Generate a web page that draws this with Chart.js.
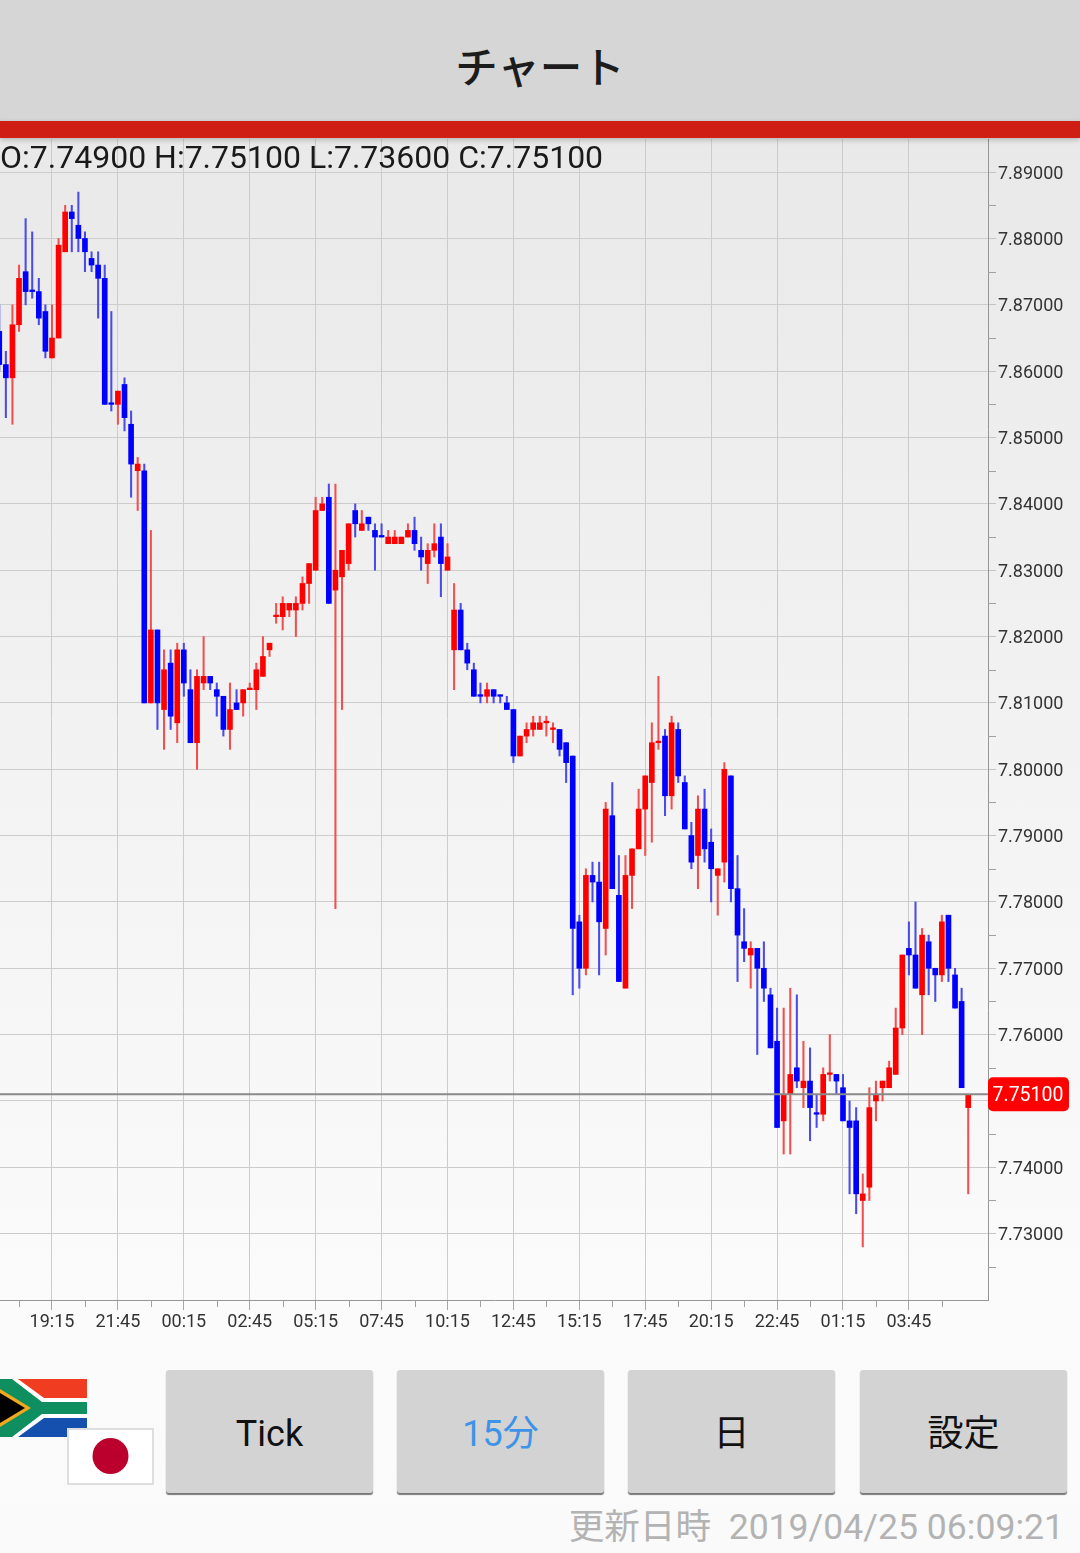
<!DOCTYPE html>
<html lang="ja">
<head>
<meta charset="utf-8">
<title>チャート</title>
<script src="https://cdn.jsdelivr.net/npm/chart.js@4"></script>
<style>
  html, body { margin: 0; padding: 0; }
  body { width: 1080px; height: 1553px; position: relative; overflow: hidden; font-family: Roboto, sans-serif;
    background: linear-gradient(#e9e9e9 139px, #fbfbfb 1300px, #fafafa 1553px); }
  .header { position: absolute; left: 0; top: 0; width: 1080px; height: 121px; background: #d6d6d6;
    font: 500 42.5px/130px "Noto Sans CJK JP"; color: #1c1c1c; text-align: center; }
  .redbar { position: absolute; left: 0; top: 121px; width: 1080px; height: 17px; background: #cf1f15; box-shadow: 0 2px 5px rgba(0,0,0,.22); }
  #chart { position: absolute; left: 0; top: 139px; }
  .ohlc { position: absolute; left: 0; top: 138px; font-size: 32px; line-height: 38px; color: #1a1a1a; white-space: nowrap; }
  .btn { position: absolute; top: 1370px; height: 123px; width: 207px; background: #d3d3d3; border-radius: 3px;
    box-shadow: 0 2px 1px #777; text-align: center; font: 36px/129px Roboto, "Noto Sans CJK JP"; color: #111; }
  .flag { position: absolute; }
  .updated { position: absolute; right: 16px; top: 1504px; font: 35.6px/46px Roboto, "Noto Sans CJK JP"; color: #b3b3b3; white-space: nowrap; }
</style>
</head>
<body>
<div class="header">チャート</div>
<canvas id="chart" width="1080" height="1210"></canvas>
<div class="redbar"></div>
<div class="ohlc" id="ohlc"></div>
<svg class="flag" style="left:0;top:1379px" width="87" height="58" viewBox="0 0 87 58">
  <rect width="87" height="58" fill="#fff"/>
  <polygon points="18,0 87,0 87,19 44,19" fill="#f03c20"/>
  <polygon points="18,58 87,58 87,39 44,39" fill="#1650ae"/>
  <polygon points="0,0 12,0 42,23 87,23 87,35 42,35 12,58 0,58" fill="#0f8f5f"/>
  <polygon points="0,10 31,29 0,48" fill="#f0a81c"/>
  <polygon points="0,14 25,29 0,44" fill="#000"/>
</svg>
<svg class="flag" style="left:67px;top:1428px" width="87" height="57" viewBox="0 0 87 57">
  <rect x="1" y="1" width="85" height="55" fill="#fff" stroke="#dedede" stroke-width="2"/>
  <circle cx="43.5" cy="28" r="18" fill="#bc002d"/>
</svg>
<div class="btn" style="left:166px">Tick</div>
<div class="btn" style="left:397px;color:#3f93e6">15分</div>
<div class="btn" style="left:628px">日</div>
<div class="btn" style="left:860px">設定</div>
<div class="updated">更新日時&nbsp; 2019/04/25 06:09:21</div>
<script>
// 15 minute candles, oldest first
const opens = [7.866,7.861,7.859,7.867,7.875,7.872,7.872,7.869,7.862,7.865,7.878,7.884,7.882,7.880,7.877,7.876,7.874,7.855,7.855,7.858,
  7.852,7.845,7.845,7.810,7.821,7.809,7.816,7.807,7.818,7.812,7.804,7.813,7.814,7.812,7.811,7.806,7.810,7.810,7.812,7.812,
  7.814,7.818,7.823,7.823,7.824,7.824,7.825,7.828,7.830,7.839,7.841,7.827,7.829,7.831,7.839,7.836,7.838,7.836,7.835,7.834,
  7.834,7.834,7.835,7.836,7.833,7.831,7.833,7.835,7.830,7.818,7.824,7.818,7.815,7.811,7.811,7.812,7.811,7.810,7.809,7.802,
  7.805,7.806,7.806,7.807,7.806,7.806,7.804,7.802,7.777,7.770,7.784,7.783,7.776,7.793,7.781,7.767,7.784,7.788,7.794,7.798,
  7.804,7.805,7.796,7.806,7.798,7.790,7.787,7.794,7.789,7.784,7.786,7.799,7.782,7.774,7.772,7.773,7.770,7.766,7.759,7.747,
  7.751,7.755,7.752,7.753,7.748,7.748,7.754,7.754,7.752,7.747,7.747,7.735,7.737,7.750,7.752,7.752,7.754,7.761,7.773,7.772,
  7.766,7.774,7.770,7.769,7.778,7.769,7.765,7.749];
const highs = [7.870,7.863,7.870,7.876,7.883,7.881,7.874,7.870,7.870,7.880,7.885,7.885,7.887,7.881,7.878,7.878,7.876,7.869,7.857,7.859,
  7.854,7.847,7.846,7.836,7.821,7.818,7.818,7.819,7.819,7.815,7.815,7.820,7.814,7.813,7.811,7.813,7.812,7.812,7.813,7.816,
  7.820,7.819,7.825,7.826,7.825,7.826,7.829,7.831,7.841,7.841,7.843,7.843,7.833,7.837,7.840,7.839,7.838,7.837,7.837,7.836,
  7.836,7.835,7.837,7.838,7.835,7.834,7.837,7.837,7.834,7.828,7.825,7.819,7.816,7.813,7.813,7.812,7.811,7.811,7.809,7.805,
  7.807,7.808,7.808,7.808,7.807,7.806,7.804,7.802,7.778,7.785,7.786,7.786,7.795,7.798,7.787,7.787,7.788,7.797,7.799,7.807,
  7.814,7.806,7.808,7.807,7.799,7.792,7.796,7.797,7.791,7.785,7.801,7.799,7.787,7.779,7.774,7.773,7.774,7.767,7.764,7.764,
  7.767,7.766,7.759,7.758,7.751,7.755,7.760,7.754,7.754,7.750,7.749,7.739,7.752,7.753,7.753,7.756,7.764,7.772,7.777,7.780,
  7.776,7.775,7.770,7.778,7.778,7.770,7.767,7.751];
const lows = [7.860,7.853,7.852,7.866,7.870,7.871,7.867,7.862,7.862,7.865,7.878,7.878,7.878,7.875,7.875,7.868,7.855,7.854,7.852,7.851,
  7.841,7.839,7.810,7.810,7.806,7.803,7.806,7.804,7.811,7.804,7.800,7.812,7.812,7.808,7.805,7.803,7.809,7.808,7.812,7.809,
  7.814,7.817,7.822,7.821,7.823,7.820,7.824,7.825,7.830,7.839,7.825,7.779,7.809,7.830,7.835,7.836,7.836,7.830,7.835,7.834,
  7.834,7.834,7.835,7.833,7.830,7.828,7.832,7.826,7.830,7.812,7.818,7.815,7.811,7.810,7.810,7.810,7.810,7.809,7.801,7.802,
  7.804,7.805,7.806,7.805,7.804,7.802,7.798,7.766,7.767,7.769,7.780,7.769,7.772,7.782,7.768,7.767,7.779,7.788,7.787,7.789,
  7.803,7.793,7.794,7.798,7.791,7.785,7.782,7.786,7.780,7.778,7.783,7.780,7.768,7.771,7.767,7.757,7.765,7.758,7.746,7.742,
  7.742,7.752,7.749,7.744,7.746,7.747,7.753,7.751,7.747,7.736,7.733,7.728,7.735,7.747,7.750,7.752,7.754,7.760,7.769,7.767,
  7.760,7.766,7.765,7.768,7.768,7.764,7.752,7.736];
const closes = [7.861,7.859,7.867,7.874,7.872,7.872,7.868,7.863,7.865,7.879,7.884,7.883,7.880,7.878,7.876,7.874,7.855,7.855,7.857,7.853,
  7.846,7.846,7.810,7.821,7.810,7.815,7.808,7.818,7.813,7.804,7.814,7.814,7.813,7.811,7.806,7.809,7.809,7.812,7.812,7.815,
  7.817,7.819,7.823,7.825,7.825,7.825,7.828,7.831,7.839,7.840,7.825,7.830,7.833,7.837,7.837,7.837,7.837,7.835,7.835,7.835,
  7.835,7.835,7.836,7.834,7.832,7.833,7.834,7.831,7.832,7.824,7.818,7.816,7.811,7.811,7.812,7.811,7.811,7.809,7.802,7.805,
  7.806,7.807,7.807,7.807,7.806,7.803,7.801,7.776,7.770,7.784,7.783,7.777,7.794,7.782,7.768,7.784,7.788,7.794,7.799,7.804,
  7.804,7.796,7.807,7.799,7.791,7.786,7.794,7.788,7.785,7.785,7.800,7.782,7.775,7.773,7.773,7.770,7.767,7.758,7.746,7.751,
  7.754,7.753,7.753,7.749,7.748,7.754,7.754,7.753,7.747,7.746,7.736,7.736,7.749,7.751,7.753,7.755,7.761,7.772,7.772,7.767,
  7.775,7.770,7.769,7.777,7.770,7.764,7.752,7.751];
// open == close bars that the app still paints blue
const fallingDoji = [5, 17, 58, 73, 76, 124];

const timeLabels = ['19:15','21:45','00:15','02:45','05:15','07:45','10:15','12:45','15:15','17:45','20:15','22:45','01:15','03:45'];
const timeTicks = [8,18,28,38,48,58,68,78,88,98,108,118,128,138];
const minorTimeTicks = [3,13,23,33,43,53,63,73,83,93,103,113,123,133,143];
const priceLabels = [7.73,7.74,7.75,7.76,7.77,7.78,7.79,7.80,7.81,7.82,7.83,7.84,7.85,7.86,7.87,7.88,7.89];
const minorPrices = [7.725,7.735,7.745,7.755,7.765,7.775,7.785,7.795,7.805,7.815,7.825,7.835,7.845,7.855,7.865,7.875,7.885];

const last = opens.length - 1;
const fmt = v => v.toFixed(5);
document.getElementById('ohlc').textContent =
  'O:' + fmt(opens[last]) + ' H:' + fmt(highs[last]) + ' L:' + fmt(lows[last]) + ' C:' + fmt(closes[last]);

const isUp = i => closes[i] > opens[i] || (closes[i] === opens[i] && !fallingDoji.includes(i));
const barColors = opens.map((o, i) => isUp(i) ? '#ff0000' : '#0000ff');
const wickColors = opens.map((o, i) => isUp(i) ? '#f25050' : '#4b4be8');

// last price tag and the small ticks Chart.js has no option for
const extras = {
  id: 'extras',
  afterDraw(chart) {
    const { ctx, scales: { x, y }, chartArea } = chart;
    ctx.save();
    ctx.strokeStyle = '#a0a0a0';
    ctx.lineWidth = 1;
    ctx.beginPath();
    minorTimeTicks.forEach(t => {
      const px = Math.round(x.getPixelForValue(t)) + 0.5;
      ctx.moveTo(px, chartArea.bottom);
      ctx.lineTo(px, chartArea.bottom + 7);
    });
    minorPrices.forEach(p => {
      const py = Math.round(y.getPixelForValue(p)) + 0.5;
      ctx.moveTo(chartArea.right, py);
      ctx.lineTo(chartArea.right + 8, py);
    });
    ctx.stroke();
    const yy = y.getPixelForValue(closes[last]);
    ctx.fillStyle = '#ff0000';
    ctx.beginPath();
    ctx.roundRect(chartArea.right, yy - 17, 81, 34, 5);
    ctx.fill();
    ctx.fillStyle = '#fff';
    ctx.font = '19.5px Roboto';
    ctx.textAlign = 'center';
    ctx.textBaseline = 'middle';
    ctx.fillText(fmt(closes[last]), chartArea.right + 40, yy + 1.5);
    ctx.restore();
  }
};

new Chart(document.getElementById('chart'), {
  type: 'bar',
  data: {
    datasets: [{
      data: opens.map((o, i) => ({ x: i, y: [lows[i], highs[i]] })),
      backgroundColor: wickColors,
      barThickness: 1.4,
      minBarLength: 1,
      order: 2
    }, {
      data: opens.map((o, i) => ({ x: i, y: [opens[i], closes[i]] })),
      backgroundColor: barColors,
      barThickness: 5,
      minBarLength: 1.6,
      order: 1
    }, {
      type: 'line',
      data: [{ x: 0, y: closes[last] }, { x: 150, y: closes[last] }],
      borderColor: '#8a8a8a',
      borderWidth: 2,
      pointRadius: 0,
      order: 0
    }]
  },
  options: {
    responsive: false,
    animation: false,
    devicePixelRatio: 1,
    layout: { padding: 0 },
    plugins: { legend: { display: false }, tooltip: { enabled: false } },
    datasets: { bar: { grouped: false } },
    scales: {
      x: {
        type: 'linear',
        offset: false,
        min: 0.112,
        max: 150,
        afterFit(scale) { scale.height = 49; scale.paddingLeft = 0; scale.paddingRight = 0; },
        afterBuildTicks(scale) { scale.ticks = timeTicks.map(v => ({ value: v })); },
        grid: { offset: false, color: '#cccccc', lineWidth: 1, tickColor: '#a8a8a8', tickLength: 10 },
        border: { color: '#969696', width: 1 },
        ticks: {
          autoSkip: false,
          maxRotation: 0,
          padding: 2,
          color: '#333',
          font: { family: 'Roboto', size: 18 },
          callback: v => timeLabels[timeTicks.indexOf(v)]
        }
      },
      y: {
        position: 'right',
        min: 7.72,
        max: 7.895,
        afterFit(scale) { scale.width = 92; scale.paddingTop = 0; scale.paddingBottom = 0; },
        afterBuildTicks(scale) { scale.ticks = priceLabels.map(v => ({ value: v })); },
        grid: { color: '#cccccc', lineWidth: 1, tickColor: '#c4c4c4', tickLength: 8 },
        border: { color: '#969696', width: 1 },
        ticks: {
          autoSkip: false,
          padding: 2,
          labelOffset: 2,
          color: '#333',
          font: { family: 'Roboto', size: 18 },
          callback: v => fmt(v)
        }
      }
    }
  },
  plugins: [extras]
});
</script>
</body>
</html>
